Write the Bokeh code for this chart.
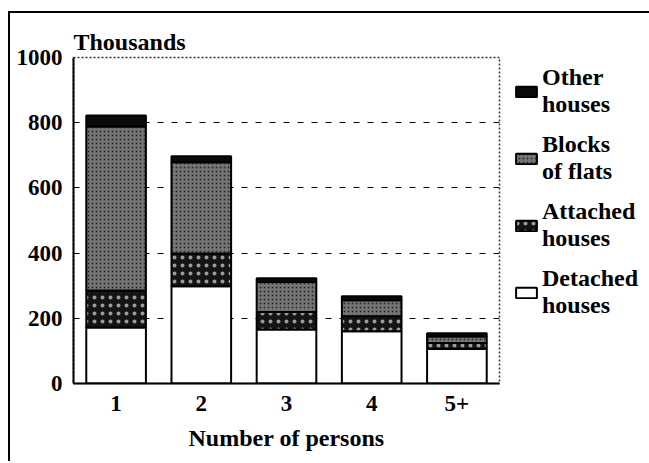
from bokeh.plotting import figure
from bokeh.models import ColumnDataSource, FactorRange, Legend, LegendItem, FixedTicker
from bokeh.embed import file_html
from bokeh.resources import INLINE

persons = ["1", "2", "3", "4", "5+"]
detached = [172, 298, 166, 160, 106]
attached = [113, 101, 53, 46, 18]
flats = [503, 280, 92, 49, 20]
other = [34, 18, 12, 13, 10]
y_ticks = [0, 200, 400, 600, 800, 1000]
stack_keys = ["detached", "attached", "flats", "other"]
legend_labels = ["Detached\nhouses", "Attached\nhouses", "Blocks\nof flats", "Other\nhouses"]

FONT = "Liberation Serif"

source = ColumnDataSource(dict(persons=persons, detached=detached, attached=attached,
                               flats=flats, other=other))

p = figure(x_range=FactorRange(*persons, range_padding=0), y_range=(0, 1000),
           frame_width=426, frame_height=326, output_backend="svg", toolbar_location=None,
           min_border_left=63, min_border_right=146, min_border_top=44, min_border_bottom=78,
           styles={"border-left": "2px solid black", "border-top": "2px solid black",
                   "margin-left": "8px", "margin-top": "11px"})

renderers = p.vbar_stack(stack_keys, x="persons", source=source, width=0.7,
                         fill_color=["white", "#141414", "#767676", "#0a0a0a"],
                         line_color="black", line_width=2,
                         hatch_pattern=[None, "dot", "dot", None],
                         hatch_color=["white", "#9a9a9a", "#2a2a2a", "black"],
                         hatch_scale=[6, 8, 4, 6], hatch_weight=[1, 0.7, 1.5, 1])

p.title.text = "Thousands"
p.title.align = "left"
p.title.text_font = FONT
p.title.text_font_size = "24px"
p.title.text_font_style = "bold"
p.title.text_color = "black"
p.title.standoff = 5

p.yaxis.ticker = FixedTicker(ticks=y_ticks)
for ax in (p.xaxis[0], p.yaxis[0]):
    ax.major_label_text_font = FONT
    ax.major_label_text_font_size = "23px"
    ax.major_label_text_font_style = "bold"
    ax.major_label_text_color = "black"
    ax.axis_line_color = "black"
    ax.axis_line_width = 2
    ax.minor_tick_line_color = None
    ax.major_tick_line_color = None
p.yaxis.major_label_standoff = 5
p.xaxis.major_label_standoff = 6
p.xaxis.axis_label = "Number of persons"
p.xaxis.axis_label_text_font = FONT
p.xaxis.axis_label_text_font_size = "24px"
p.xaxis.axis_label_text_font_style = "bold"
p.xaxis.axis_label_text_color = "black"
p.xaxis.axis_label_standoff = 11

p.xgrid.grid_line_color = None
p.ygrid.grid_line_color = "black"
p.ygrid.grid_line_dash = "6 8"
p.ygrid.grid_line_width = 1.2

p.outline_line_color = "#333333"
p.outline_line_dash = "2 2"
p.outline_line_width = 1.5

items = [LegendItem(label=lab, renderers=[r]) for lab, r in zip(legend_labels, renderers)]
items.reverse()
legend = Legend(items=items, location=(14, 64), margin=0, padding=0,
                spacing=13, glyph_width=26, glyph_height=13, label_standoff=3,
                label_text_font=FONT, label_text_font_size="24px",
                label_text_line_height=1.1,
                label_text_font_style="bold", label_text_color="black",
                border_line_color=None, background_fill_alpha=0)
p.add_layout(legend, "right")

open("out.html", "w").write(file_html(p, INLINE))
